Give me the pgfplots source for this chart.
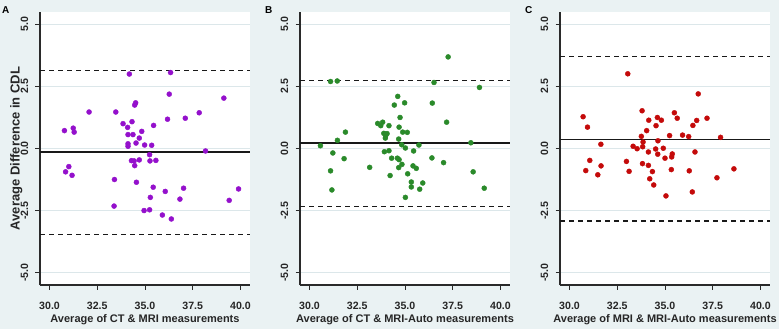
\documentclass[border=0pt]{standalone}
\usepackage{pgfplots}
\pgfplotsset{compat=1.18}
\usepackage{fontspec}
\setmainfont{Liberation Sans}
\definecolor{bg}{HTML}{EAF2F3}
\definecolor{gridc}{HTML}{DCE7EA}
\definecolor{axc}{HTML}{2A2A2A}
\definecolor{cpur}{HTML}{9410CC}
\definecolor{cgrn}{HTML}{2A8A2A}
\definecolor{cred}{HTML}{C40A0A}

\pgfplotsset{
 bapanel/.style={
  scale only axis, width=210bp, height=273bp, anchor=south west,
  xmin=29.5, xmax=40.5, ymin=-5.5, ymax=5.5,
  axis x line*=bottom, axis y line*=left,
  axis line style={axc, line width=1.1bp},
  axis background/.style={fill=white},
  tick align=outside, major tick length=4.5bp,
  every tick/.style={axc, line width=1bp},
  xtick={30,32.5,35,37.5,40}, xticklabels={30.0,32.5,35.0,37.5,40.0},
  ytick={-5,-2.5,0,2.5,5},
  yticklabels={\rotatebox{90}{-5.0},\rotatebox{90}{-2.5},\rotatebox{90}{0.0},\rotatebox{90}{2.5},\rotatebox{90}{5.0}},
  ymajorgrids, major grid style={gridc, line width=1.3bp},
  ticklabel style={font=\fontsize{10.6bp}{12bp}\selectfont\bfseries, text=black!85},
  yticklabel style={anchor=east, inner sep=0pt, xshift=-7bp},
  xticklabel style={anchor=north, inner sep=0pt, yshift=-12bp},
  xlabel style={at={(axis description cs:0.5,0)}, anchor=base, yshift=-37bp,
    font=\fontsize{11bp}{13bp}\selectfont\bfseries, text=black!85},
  clip=false,
 },
 limline/.style={black!90, line width=1.1bp, dash pattern=on 5bp off 4bp, forget plot},
 meanline/.style={black!90, line width=1.3bp, forget plot},
 pts/.style={only marks, mark=*, mark size=2.5bp, color=#1, mark options={draw=#1, fill=#1}},
}

\pgfplotstableread{
x y
30.78 0.72
31.24 0.82
31.29 0.66
32.07 1.47
30.84 -0.94
31.01 -0.73
31.18 -1.08
33.47 1.47
34.18 3.00
33.85 1.00
34.09 0.85
34.32 1.08
34.46 1.75
34.51 1.84
34.11 0.56
34.37 0.56
34.83 0.69
34.70 0.42
34.53 0.22
34.11 0.19
34.11 0.09
34.98 0.14
35.35 0.13
35.45 0.93
36.18 1.18
36.27 2.19
36.34 3.06
37.11 1.22
37.84 1.44
39.13 2.03
38.17 -0.10
35.24 -0.25
35.26 -0.50
35.57 -0.48
34.70 -0.46
34.29 -0.49
34.43 -0.50
34.46 -0.69
34.55 -1.36
35.43 -1.56
33.40 -1.25
36.06 -1.73
37.02 -1.60
39.90 -1.63
35.28 -1.97
36.83 -2.04
39.41 -2.09
33.38 -2.32
34.95 -2.50
35.24 -2.47
35.91 -2.68
36.38 -2.84
}\dataA

\pgfplotstableread{
x y
37.26 3.69
31.10 2.70
31.45 2.72
36.52 2.66
38.90 2.46
34.62 2.10
34.44 1.75
34.98 1.84
36.43 1.83
34.74 1.25
37.18 1.06
33.57 1.01
33.73 0.92
33.83 1.06
34.16 0.92
34.69 0.86
34.88 0.66
35.12 0.65
33.89 0.61
33.99 0.52
34.06 0.60
33.97 0.42
34.67 0.38
31.88 0.66
31.46 0.33
30.57 0.11
34.83 0.15
35.02 0.02
35.73 0.14
38.45 0.23
31.22 -0.18
33.92 -0.13
34.16 -0.09
35.45 -0.10
31.81 -0.41
34.30 -0.39
34.60 -0.39
34.69 -0.45
36.41 -0.38
34.84 -0.64
34.67 -0.77
35.42 -0.70
35.59 -0.80
37.02 -0.57
33.15 -0.76
31.10 -0.90
38.57 -0.94
35.14 -1.02
34.22 -1.09
35.33 -1.35
35.33 -1.55
35.93 -1.39
31.17 -1.67
35.77 -1.64
39.15 -1.60
35.02 -1.97
}\dataB

\pgfplotstableread{
x y
33.05 3.01
36.74 2.20
30.71 1.28
30.94 0.86
33.80 1.52
34.15 1.14
34.60 1.25
34.81 1.14
34.53 0.92
35.49 1.44
35.64 1.22
36.66 1.13
36.46 0.93
37.20 1.22
34.04 0.72
33.76 0.49
35.24 0.52
35.92 0.54
36.24 0.48
37.91 0.45
33.85 0.26
34.63 0.31
33.83 0.07
33.33 0.09
33.54 -0.01
31.64 0.17
34.13 -0.14
34.51 -0.02
34.62 -0.23
34.91 0.01
35.38 -0.22
35.35 -0.34
35.00 -0.39
36.57 -0.14
31.06 -0.48
32.98 -0.52
31.65 -0.70
30.85 -0.89
31.48 -1.06
33.12 -0.92
33.82 -0.61
34.13 -0.68
34.34 -0.93
35.33 -0.85
36.27 -0.90
34.20 -1.22
34.41 -1.47
37.72 -1.18
38.61 -0.82
36.43 -1.75
35.05 -1.91
}\dataC

\begin{document}
\begin{tikzpicture}
\fill[bg] (0,0) rectangle (779bp,329bp);

\begin{axis}[bapanel, at={(40bp,44bp)},
  xlabel={Average of CT \& MRI measurements},
  ylabel={Average Difference in CDL},
  ylabel style={at={(axis description cs:-0.0967,0.5)}, anchor=base,
    font=\fontsize{13bp}{15bp}\selectfont\bfseries, text=black!85}]
\addplot[limline] coordinates {(29.5,3.16) (40.5,3.16)};
\addplot[limline] coordinates {(29.5,-3.47) (40.5,-3.47)};
\addplot[meanline] coordinates {(29.5,-0.14) (40.5,-0.14)};
\addplot[pts=cpur] table[x=x,y=y] {\dataA};
\end{axis}

\begin{axis}[bapanel, at={(300bp,44bp)},
  xlabel={Average of CT \& MRI-Auto measurements}]
\addplot[limline] coordinates {(29.5,2.74) (40.5,2.74)};
\addplot[limline] coordinates {(29.5,-2.32) (40.5,-2.32)};
\addplot[meanline] coordinates {(29.5,0.22) (40.5,0.22)};
\addplot[pts=cgrn] table[x=x,y=y] {\dataB};
\end{axis}

\begin{axis}[bapanel, at={(560bp,44bp)},
  xlabel={Average of MRI \& MRI-Auto measurements}]
\addplot[limline] coordinates {(29.5,3.70) (40.5,3.70)};
\addplot[limline] coordinates {(29.5,-2.92) (40.5,-2.92)};
\addplot[meanline] coordinates {(29.5,0.37) (40.5,0.37)};
\addplot[pts=cred] table[x=x,y=y] {\dataC};
\end{axis}

\node[anchor=base west, inner sep=0pt, font=\fontsize{10bp}{12bp}\selectfont\bfseries] at (2bp,315bp) {A};
\node[anchor=base west, inner sep=0pt, font=\fontsize{10bp}{12bp}\selectfont\bfseries] at (265bp,315bp) {B};
\node[anchor=base west, inner sep=0pt, font=\fontsize{10bp}{12bp}\selectfont\bfseries] at (525bp,315bp) {C};

\pgfresetboundingbox
\path[use as bounding box] (0,0) rectangle (779bp,329bp);
\end{tikzpicture}
\end{document}
